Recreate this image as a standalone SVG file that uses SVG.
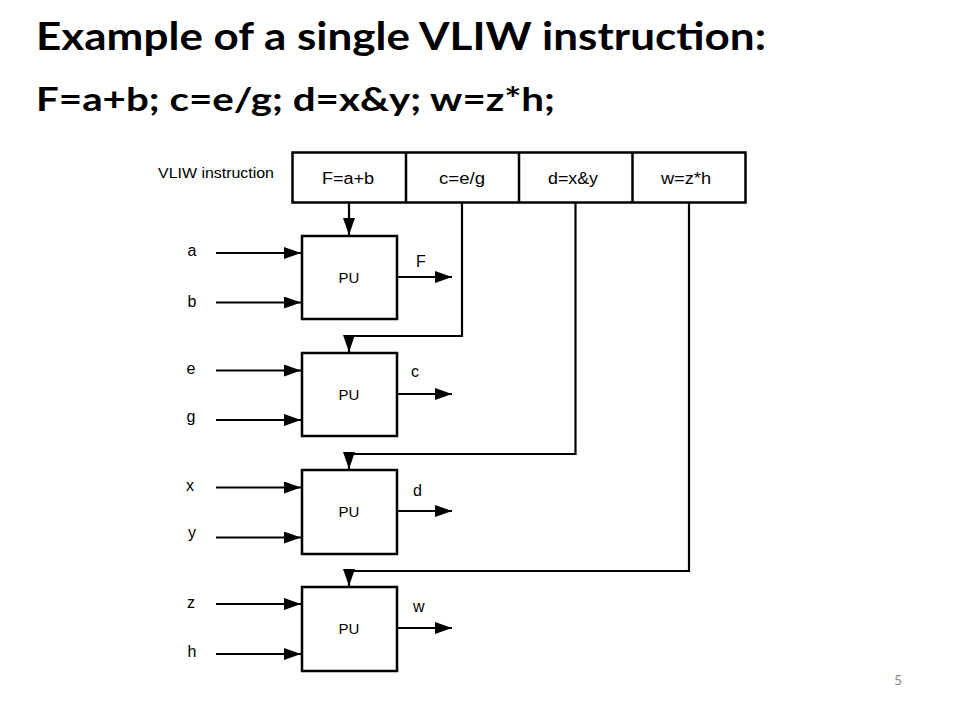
<svg xmlns="http://www.w3.org/2000/svg" width="960" height="720" viewBox="0 0 960 720">
<style>
.title{font-family:Lato,"Open Sans","Liberation Sans",sans-serif;font-weight:bold;fill:#000}
.lbl{font-family:"Liberation Sans",Arial,sans-serif;font-size:16px;fill:#000}
.pu{font-family:"Liberation Sans",Arial,sans-serif;font-size:15px;fill:#000}
.box{fill:#fff;stroke:#000;stroke-width:2.5}
.wire{fill:none;stroke:#000;stroke-width:2.2}
</style>
<defs>
<marker id="ah" markerUnits="userSpaceOnUse" markerWidth="17" markerHeight="12" refX="17" refY="6" orient="auto">
<path d="M0,0 L17,6 L0,12 z" fill="#000"/>
</marker>
</defs>
<rect width="960" height="720" fill="#fff"/>
<text class="title" x="36" y="50" font-size="39" textLength="730" lengthAdjust="spacingAndGlyphs">Example of a single VLIW instruction:</text>
<text class="title" x="36" y="111" font-size="33" textLength="519" lengthAdjust="spacingAndGlyphs">F=a+b; c=e/g; d=x&amp;y; w=z*h;</text>

<g id="instr">
<text class="pu" x="158" y="178" textLength="116" lengthAdjust="spacingAndGlyphs">VLIW instruction</text>
<rect class="box" x="292.5" y="152.5" width="453" height="50"/>
<line x1="406" y1="152.5" x2="406" y2="202.5" stroke="#000" stroke-width="2.5"/>
<line x1="519" y1="152.5" x2="519" y2="202.5" stroke="#000" stroke-width="2.5"/>
<line x1="632.5" y1="152.5" x2="632.5" y2="202.5" stroke="#000" stroke-width="2.5"/>
<text class="lbl" x="348" y="184" text-anchor="middle" textLength="52" lengthAdjust="spacingAndGlyphs">F=a+b</text>
<text class="lbl" x="462" y="184" text-anchor="middle" textLength="46" lengthAdjust="spacingAndGlyphs">c=e/g</text>
<text class="lbl" x="573" y="184" text-anchor="middle" textLength="50" lengthAdjust="spacingAndGlyphs">d=x&amp;y</text>
<text class="lbl" x="686" y="184" text-anchor="middle" textLength="50" lengthAdjust="spacingAndGlyphs">w=z*h</text>
</g>

<g id="pu1">
<rect class="box" x="302" y="236" width="95" height="83"/>
<text class="pu" x="349" y="283" text-anchor="middle">PU</text>
<text class="lbl" x="192" y="256" text-anchor="middle">a</text>
<text class="lbl" x="192" y="307" text-anchor="middle">b</text>
<text class="lbl" x="416" y="267">F</text>
</g>
<g id="pu2">
<rect class="box" x="302" y="353" width="95" height="83"/>
<text class="pu" x="349" y="400" text-anchor="middle">PU</text>
<text class="lbl" x="191" y="374" text-anchor="middle">e</text>
<text class="lbl" x="191" y="422" text-anchor="middle">g</text>
<text class="lbl" x="411" y="377">c</text>
</g>
<g id="pu3">
<rect class="box" x="302" y="470" width="95" height="84"/>
<text class="pu" x="349" y="517" text-anchor="middle">PU</text>
<text class="lbl" x="190" y="491" text-anchor="middle">x</text>
<text class="lbl" x="192" y="538" text-anchor="middle">y</text>
<text class="lbl" x="413" y="496">d</text>
</g>
<g id="pu4">
<rect class="box" x="302" y="587" width="95" height="84"/>
<text class="pu" x="349" y="634" text-anchor="middle">PU</text>
<text class="lbl" x="191" y="608" text-anchor="middle">z</text>
<text class="lbl" x="192" y="657" text-anchor="middle">h</text>
<text class="lbl" x="413" y="612">w</text>
</g>

<g id="connectors">
<line class="wire" x1="349" y1="203" x2="349" y2="235" marker-end="url(#ah)"/>
<polyline class="wire" points="462,203 462,336 349,336 349,352" marker-end="url(#ah)"/>
<polyline class="wire" points="575.5,203 575.5,454 349,454 349,469" marker-end="url(#ah)"/>
<polyline class="wire" points="689,203 689,571 349,571 349,586" marker-end="url(#ah)"/>
<line class="wire" x1="216" y1="253" x2="301" y2="253" marker-end="url(#ah)"/>
<line class="wire" x1="216" y1="302.5" x2="301" y2="302.5" marker-end="url(#ah)"/>
<line class="wire" x1="216" y1="370.5" x2="301" y2="370.5" marker-end="url(#ah)"/>
<line class="wire" x1="216" y1="420" x2="301" y2="420" marker-end="url(#ah)"/>
<line class="wire" x1="216" y1="487.5" x2="301" y2="487.5" marker-end="url(#ah)"/>
<line class="wire" x1="216" y1="537.5" x2="301" y2="537.5" marker-end="url(#ah)"/>
<line class="wire" x1="216" y1="604" x2="301" y2="604" marker-end="url(#ah)"/>
<line class="wire" x1="216" y1="654" x2="301" y2="654" marker-end="url(#ah)"/>
<line class="wire" x1="397" y1="277" x2="452" y2="277" marker-end="url(#ah)"/>
<line class="wire" x1="397" y1="394" x2="452" y2="394" marker-end="url(#ah)"/>
<line class="wire" x1="397" y1="511" x2="452" y2="511" marker-end="url(#ah)"/>
<line class="wire" x1="397" y1="628" x2="452" y2="628" marker-end="url(#ah)"/>
</g>

<text x="898" y="685" text-anchor="middle" font-family="Lato,'Liberation Sans',sans-serif" font-size="14" fill="#8b8b8b">5</text>
</svg>
